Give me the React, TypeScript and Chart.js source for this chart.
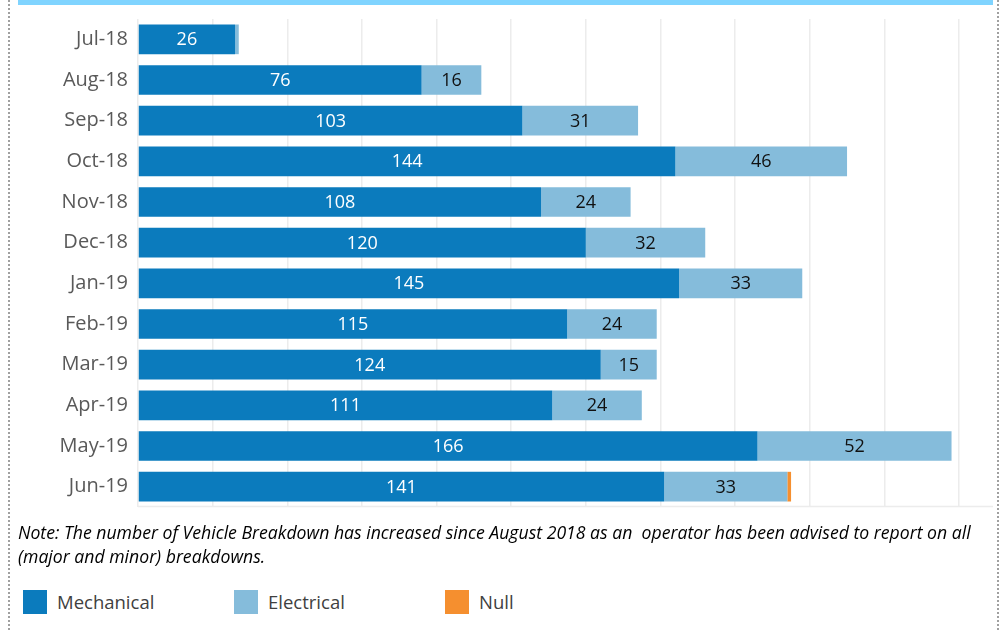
import React, { useEffect, useRef } from "react";
import { Chart, registerables } from "chart.js";

Chart.register(...registerables);

const months = ["Jul-18", "Aug-18", "Sep-18", "Oct-18", "Nov-18", "Dec-18", "Jan-19", "Feb-19", "Mar-19", "Apr-19", "May-19", "Jun-19"];
const mechanical = [26, 76, 103, 144, 108, 120, 145, 115, 124, 111, 166, 141];
const electrical = [1, 16, 31, 46, 24, 32, 33, 24, 15, 24, 52, 33];
const nullValues = [0, 0, 0, 0, 0, 0, 0, 0, 0, 0, 0, 1];
const xMax = 220;
const xStep = 20;

const C_MECH = "#0B7BBD";
const C_ELEC = "#85BCDB";
const C_NULL = "#F58F2F";
const FONT = "'Open Sans', Lato, sans-serif";

const labelPlugin = {
  id: "segLabels",
  afterDatasetsDraw(chart: any) {
    const ctx = chart.ctx;
    ctx.save();
    ctx.font = `18px ${FONT}`;
    ctx.textAlign = "center";
    ctx.textBaseline = "middle";
    chart.data.datasets.forEach((ds: any, di: number) => {
      if (di > 1) return;
      const meta = chart.getDatasetMeta(di);
      meta.data.forEach((bar: any, i: number) => {
        const v = ds.data[i];
        if (v < 5) return;
        const cx = (bar.x + bar.base) / 2;
        ctx.fillStyle = di === 0 ? "#ffffff" : "#111111";
        ctx.fillText(String(v), cx, bar.y + 1);
      });
    });
    ctx.restore();
  },
};

const bottomLinePlugin = {
  id: "bottomLine",
  afterDraw(chart: any) {
    const { ctx, chartArea } = chart;
    ctx.save();
    ctx.strokeStyle = "#ececec";
    ctx.lineWidth = 1.5;
    ctx.beginPath();
    ctx.moveTo(chartArea.left, chartArea.bottom - 0.5);
    ctx.lineTo(993, chartArea.bottom - 0.5);
    ctx.stroke();
    ctx.restore();
  },
};

export default function App() {
  const ref = useRef<HTMLCanvasElement>(null);
  useEffect(() => {
    if (!ref.current) return;
    const chart = new Chart(ref.current, {
      type: "bar",
      data: {
        labels: months,
        datasets: [
          { label: "Mechanical", data: mechanical, backgroundColor: C_MECH, barPercentage: 0.73, categoryPercentage: 1 },
          { label: "Electrical", data: electrical, backgroundColor: C_ELEC, barPercentage: 0.73, categoryPercentage: 1 },
          { label: "Null", data: nullValues, backgroundColor: C_NULL, barPercentage: 0.73, categoryPercentage: 1 },
        ],
      },
      options: {
        indexAxis: "y",
        animation: false,
        responsive: false,
        maintainAspectRatio: false,
        layout: { padding: { top: 12.5, right: 42, bottom: 0, left: 0 } },
        plugins: { legend: { display: false }, tooltip: { enabled: false } },
        scales: {
          x: {
            stacked: true,
            min: 0,
            max: xMax,
            ticks: { display: false, stepSize: xStep },
            grid: { color: "#ececec", lineWidth: 1.5, drawTicks: false },
            border: { display: false },
            afterFit: (s: any) => { s.height = 0; },
          },
          y: {
            stacked: true,
            ticks: { color: "#595959", font: { family: FONT, size: 20 }, padding: 10 },
            grid: { display: false, drawTicks: false },
            border: { display: false },
            afterFit: (s: any) => { s.width = 138; },
          },
        },
      },
      plugins: [labelPlugin, bottomLinePlugin],
    });
    return () => chart.destroy();
  }, []);

  const legendItem = (color: string, text: string, left: number) => (
    <div style={{ position: "absolute", left, top: 589, display: "flex", alignItems: "center" }}>
      <div style={{ width: 24, height: 24, background: color }} />
      <span style={{ marginLeft: 10, fontSize: 18.5, color: "#404040", fontFamily: FONT }}>{text}</span>
    </div>
  );

  return (
    <div style={{ position: "absolute", left: 0, top: 0, width: 1001, height: 630, background: "#fff", overflow: "hidden" }}>
      <div style={{ position: "absolute", left: 8, top: 0, width: 0, height: 630, borderLeft: "2px dotted #a0a0a0" }} />
      <div style={{ position: "absolute", left: 997, top: 0, width: 0, height: 630, borderLeft: "2px dotted #a0a0a0" }} />
      <canvas ref={ref} width={1001} height={532} style={{ position: "absolute", left: 0, top: -3, width: 1001, height: 532 }} />
      <div style={{ position: "absolute", left: 18, top: 0, width: 975, height: 5, background: "#80D4FF" }} />
      <div style={{ position: "absolute", left: 18, top: 520, fontFamily: FONT, fontStyle: "italic", fontSize: 17.65, color: "#000", lineHeight: "24px", whiteSpace: "pre" }}>
        {"Note: The number of Vehicle Breakdown has increased since August 2018 as an  operator has been advised to report on all\n(major and minor) breakdowns."}
      </div>
      {legendItem(C_MECH, "Mechanical", 23)}
      {legendItem(C_ELEC, "Electrical", 234)}
      {legendItem(C_NULL, "Null", 445)}
    </div>
  );
}
